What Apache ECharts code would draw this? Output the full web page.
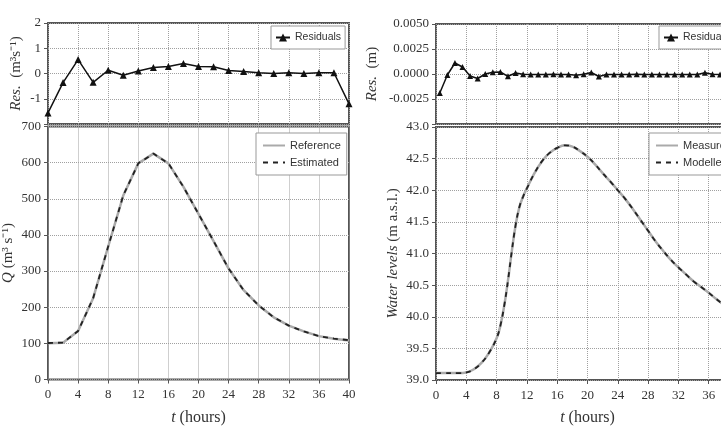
<!DOCTYPE html>
<html>
<head>
<meta charset="utf-8">
<script src="https://cdn.jsdelivr.net/npm/echarts@6/dist/echarts.min.js"></script>
<style>
  html, body { margin: 0; padding: 0; background: #fff; }
  #main { width: 721px; height: 428px; }
</style>
</head>
<body>
<div id="main"></div>
<script>
// left panel: discharge, 2-hourly
var hoursQ = [0, 2, 4, 6, 8, 10, 12, 14, 16, 18, 20, 22, 24, 26, 28, 30, 32, 34, 36, 38, 40];
var resQ = [-1.56, -0.36, 0.55, -0.35, 0.13, -0.07, 0.1, 0.24, 0.28, 0.4, 0.28, 0.27, 0.12, 0.08, 0.03, 0.0, 0.03, 0.0, 0.03, 0.03, -1.2];
var qReference = [100, 102, 134, 225, 368, 509, 598, 625, 598, 533, 458, 383, 307, 247, 205, 172, 149, 133, 120, 113, 108];
var qEstimated = [101, 102, 134, 225, 368, 509, 598, 625, 598, 533, 458, 383, 307, 247, 205, 172, 149, 133, 120, 113, 109];

// right panel: water levels (denser readings on the rising limb)
var hoursH = [0, 1, 2, 3, 4, 5, 6, 7, 8, 8.5, 9, 9.5, 10, 10.5, 11, 11.5, 12, 13, 14, 15, 16, 17, 18, 19, 20,
              21, 22, 23, 24, 25, 26, 27, 28, 29, 30, 31, 32, 33, 34, 35, 36, 37, 38, 39, 40];
var levelMeasured = [39.11, 39.11, 39.11, 39.11, 39.12, 39.17, 39.27, 39.43, 39.66, 39.86, 40.17, 40.57, 41.03,
                     41.44, 41.73, 41.9, 42.03, 42.27, 42.46, 42.59, 42.67, 42.71, 42.69, 42.62, 42.53,
                     42.41, 42.27, 42.14, 42.00, 41.86, 41.70, 41.53, 41.36, 41.19, 41.04,
                     40.90, 40.78, 40.67, 40.56, 40.47, 40.38, 40.28, 40.19, 40.11, 40.03];
var levelModelled = [39.11, 39.11, 39.11, 39.11, 39.12, 39.17, 39.27, 39.43, 39.66, 39.86, 40.17, 40.57, 41.03,
                     41.44, 41.73, 41.9, 42.03, 42.27, 42.46, 42.59, 42.67, 42.71, 42.69, 42.62, 42.53,
                     42.41, 42.27, 42.14, 42.00, 41.86, 41.70, 41.53, 41.36, 41.19, 41.04,
                     40.90, 40.78, 40.67, 40.56, 40.47, 40.38, 40.28, 40.19, 40.11, 40.03];
var hoursResH = [0.5, 1.5, 2.5, 3.5, 4.5, 5.5, 6.5, 7.5, 8.5, 9.5, 10.5, 11.5, 12.5, 13.5, 14.5,
                 15.5, 16.5, 17.5, 18.5, 19.5, 20.5, 21.5, 22.5, 23.5, 24.5, 25.5, 26.5, 27.5,
                 28.5, 29.5, 30.5, 31.5, 32.5, 33.5, 34.5, 35.5, 36.5, 37.5, 38.5, 39.5];
var resH = [-0.0019, -0.0001, 0.0011, 0.0007, -0.0002, -0.00045, 0.0, 0.00017, 0.0002, -0.00023,
            0.0001, -0.00003, -0.00005, -0.00005, -0.00005, -0.00003, -0.00005, -0.00005, -0.00012, -0.00002,
            0.00015, -0.00025, -0.00005, -0.00005, -0.00005, -0.00005, -0.00003, -0.00005, -0.00005, -0.00005,
            -0.00005, -0.00005, -0.00005, -0.00005, -0.00005, 0.00012, -0.00003, -0.00005, -0.00005, -0.00005];

function pairs(xs, ys) {
    return xs.map(function (x, i) { return [x, ys[i]]; });
}

var serif = 'Liberation Serif';
var sans = 'Liberation Sans';
var gridLine = { show: true, lineStyle: { color: '#a0a0a0', type: 'dotted', width: 1 } };
var frame = { show: true, borderColor: '#555', borderWidth: 2, backgroundColor: 'transparent', outerBoundsMode: 'none', containLabel: false };

function xAxisFor(gridIndex, max, showLabels) {
    return {
        type: 'value', gridIndex: gridIndex, min: 0, max: max, interval: 4,
        axisLine: { show: false },
        axisTick: { show: showLabels, length: 4, lineStyle: { color: '#555' } },
        axisLabel: { show: showLabels, fontFamily: serif, fontSize: 13, color: '#333', margin: 9 },
        splitLine: gridLine,
        name: showLabels ? '{i|t} (hours)' : '',
        nameLocation: 'middle', nameGap: 30,
        nameTextStyle: { fontFamily: serif, fontSize: 16, color: '#333', rich: { i: { fontFamily: serif, fontSize: 16, fontStyle: 'italic', color: '#333' } } }
    };
}

function yAxisFor(gridIndex, opts) {
    return {
        type: 'value', gridIndex: gridIndex, min: opts.min, max: opts.max, interval: opts.interval,
        axisLine: { show: false },
        axisTick: { show: true, length: 4, lineStyle: { color: '#555' } },
        axisLabel: {
            fontFamily: serif, fontSize: 13, color: '#333', margin: 7,
            formatter: function (v) {
                if (Math.abs(v - opts.min) < 1e-9 && opts.hideMin) return '';
                return opts.fmt(v);
            }
        },
        splitLine: gridLine,
        name: opts.name, nameLocation: 'middle', nameGap: opts.gap,
        nameTextStyle: {
            fontFamily: serif, fontSize: 15, color: '#333',
            rich: { i: { fontFamily: serif, fontSize: 15, fontStyle: 'italic', color: '#333' } }
        }
    };
}

var legendBase = {
    orient: 'vertical', backgroundColor: '#fff', borderColor: '#999', borderWidth: 1, borderRadius: 0,
    padding: [7, 6], itemGap: 6, itemWidth: 22, itemHeight: 10,
    textStyle: { fontFamily: sans, fontSize: 11, color: '#333' }
};
// line-only legend entries (no marker)
var lineOnly = { itemStyle: { opacity: 0 } };

var chart = echarts.init(document.getElementById('main'));
var option = {
    animation: false,
    backgroundColor: '#fff',
    grid: [
        Object.assign({ left: 48, top: 23, width: 301, height: 101 }, frame),
        Object.assign({ left: 48, top: 126.5, width: 301, height: 253 }, frame),
        Object.assign({ left: 436, top: 24, width: 303, height: 100 }, frame),
        Object.assign({ left: 436, top: 127, width: 303, height: 253 }, frame)
    ],
    xAxis: [xAxisFor(0, 40, false), xAxisFor(1, 40, true), xAxisFor(2, 40, false), xAxisFor(3, 40, true)],
    yAxis: [
        yAxisFor(0, { min: -2, max: 2, interval: 1, hideMin: true, fmt: function (v) { return String(v); },
            name: '{i|Res.}  (m³s⁻¹)', gap: 24 }),
        yAxisFor(1, { min: 0, max: 700, interval: 100, fmt: function (v) { return String(v); },
            name: '{i|Q} (m³ s⁻¹)', gap: 32 }),
        yAxisFor(2, { min: -0.005, max: 0.005, interval: 0.0025, hideMin: true, fmt: function (v) { return v.toFixed(4); },
            name: '{i|Res.}  (m)', gap: 56 }),
        yAxisFor(3, { min: 39, max: 43, interval: 0.5, fmt: function (v) { return v.toFixed(1); },
            name: '{i|Water levels} (m a.s.l.)', gap: 35 })
    ],
    legend: [
        Object.assign({}, legendBase, { left: 271, top: 26, data: ['Residuals'], padding: [6, 4], itemWidth: 14,
            textStyle: { fontFamily: sans, fontSize: 10.5, color: '#333' } }),
        Object.assign({}, legendBase, lineOnly, { left: 256, top: 133, data: ['Reference', 'Estimated'] }),
        Object.assign({}, legendBase, { left: 659, top: 26, data: ['Residuals '], padding: [6, 4], itemWidth: 14,
            textStyle: { fontFamily: sans, fontSize: 10.5, color: '#333' } }),
        Object.assign({}, legendBase, lineOnly, { left: 649, top: 133, data: ['Measured', 'Modelled'] })
    ],
    series: [
        {
            name: 'Residuals', type: 'line', xAxisIndex: 0, yAxisIndex: 0,
            data: pairs(hoursQ, resQ),
            symbol: 'triangle', symbolSize: 7,
            lineStyle: { color: '#111', width: 1.5 }, itemStyle: { color: '#111' }
        },
        {
            name: 'Reference', type: 'line', xAxisIndex: 1, yAxisIndex: 1,
            data: pairs(hoursQ, qReference), symbol: 'none',
            lineStyle: { color: '#aaa', width: 2.5 }, itemStyle: { color: '#aaa' }
        },
        {
            name: 'Estimated', type: 'line', xAxisIndex: 1, yAxisIndex: 1,
            data: pairs(hoursQ, qEstimated), symbol: 'none',
            lineStyle: { color: '#222', width: 1.8, type: [5, 5] }, itemStyle: { color: '#222' }
        },
        {
            name: 'Residuals ', type: 'line', xAxisIndex: 2, yAxisIndex: 2,
            data: pairs(hoursResH, resH),
            symbol: 'triangle', symbolSize: 6,
            lineStyle: { color: '#111', width: 1.5 }, itemStyle: { color: '#111' }
        },
        {
            name: 'Measured', type: 'line', xAxisIndex: 3, yAxisIndex: 3,
            data: pairs(hoursH, levelMeasured), symbol: 'none', smooth: 0.45,
            lineStyle: { color: '#aaa', width: 2.5 }, itemStyle: { color: '#aaa' }
        },
        {
            name: 'Modelled', type: 'line', xAxisIndex: 3, yAxisIndex: 3,
            data: pairs(hoursH, levelModelled), symbol: 'none', smooth: 0.45,
            lineStyle: { color: '#222', width: 1.8, type: [5, 5] }, itemStyle: { color: '#222' }
        }
    ]
};
chart.setOption(option);
</script>
</body>
</html>
